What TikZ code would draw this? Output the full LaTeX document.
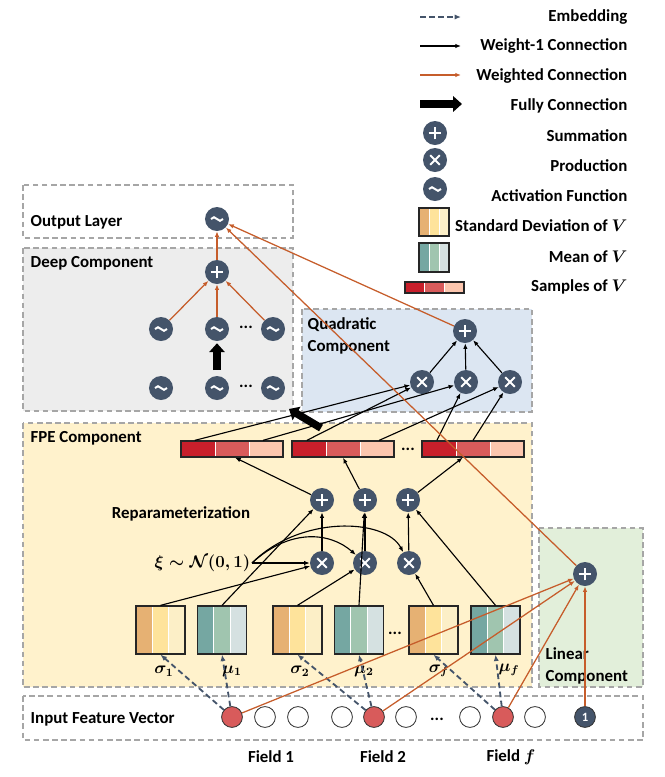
\documentclass[tikz,border=0pt]{standalone}
\usepackage{amsmath, amssymb, bm}
\usepackage[no-math]{fontspec}
\setmainfont{Carlito}
\usepackage{xcolor}
\usetikzlibrary{arrows.meta, positioning, calc}
\definecolor{opfill}{HTML}{44546A}
\definecolor{wtcol}{HTML}{C65D2B}
\definecolor{grpline}{HTML}{A6A6A6}
\definecolor{deepbg}{HTML}{EDEDED}
\definecolor{quadbg}{HTML}{DCE6F2}
\definecolor{fpebg}{HTML}{FFF2CC}
\definecolor{linbg}{HTML}{E2EFDA}
\definecolor{sdA}{HTML}{E6B173}
\definecolor{sdB}{HTML}{FEE39B}
\definecolor{sdC}{HTML}{FCEFC7}
\definecolor{muA}{HTML}{75A7A2}
\definecolor{muB}{HTML}{A0C5AF}
\definecolor{muC}{HTML}{D5E1E1}
\definecolor{smA}{HTML}{C81F2B}
\definecolor{smB}{HTML}{D85B5B}
\definecolor{smC}{HTML}{FCC6AE}
\tikzset{
    grpbox/.style={draw=grpline, line width=1pt, dash pattern=on 4pt off 2.5pt},
    grplbl/.style={anchor=west, inner sep=1pt, align=left},
    legtxt/.style={anchor=east, inner sep=1pt},
    varlbl/.style={font=\large\boldmath},
    op/.style={circle, fill=opfill, minimum size=0.6cm, inner sep=0pt},
    sumop/.style={op, path picture={
        \draw[white, line width=1.5pt] ([xshift=-0.16cm]path picture bounding box.center) -- ([xshift=0.16cm]path picture bounding box.center)
            ([yshift=-0.16cm]path picture bounding box.center) -- ([yshift=0.16cm]path picture bounding box.center);}},
    prodop/.style={op, path picture={
        \draw[white, line width=1.3pt] ([shift={(-0.12cm,-0.12cm)}]path picture bounding box.center) -- ([shift={(0.12cm,0.12cm)}]path picture bounding box.center)
            ([shift={(-0.12cm,0.12cm)}]path picture bounding box.center) -- ([shift={(0.12cm,-0.12cm)}]path picture bounding box.center);}},
    actop/.style={op, path picture={
        \draw[white, line width=1.4pt] ([xshift=-0.15cm]path picture bounding box.center)
            sin ++(0.075cm,0.045cm) cos ++(0.075cm,-0.045cm) sin ++(0.075cm,-0.045cm) cos ++(0.075cm,0.045cm);}},
    stripes/.style n args={3}{draw=black!85, line width=0.9pt, inner sep=0pt, path picture={
        \coordinate (sw) at (path picture bounding box.south west);
        \coordinate (se) at (path picture bounding box.south east);
        \coordinate (nw) at (path picture bounding box.north west);
        \coordinate (ne) at (path picture bounding box.north east);
        \fill[#1] (sw) rectangle ($(nw)!1/3!(ne)$);
        \fill[#2] ($(sw)!1/3!(se)$) rectangle ($(nw)!2/3!(ne)$);
        \fill[#3] ($(sw)!2/3!(se)$) rectangle (ne);
        \draw[white, line width=0.7pt] ($(sw)!1/3!(se)$) -- ($(nw)!1/3!(ne)$) ($(sw)!2/3!(se)$) -- ($(nw)!2/3!(ne)$);}},
    sdbox/.style={stripes={sdA}{sdB}{sdC}, minimum width=1.225cm, minimum height=1.2cm},
    mubox/.style={stripes={muA}{muB}{muC}, minimum width=1.225cm, minimum height=1.2cm},
    smbar/.style={stripes={smA}{smB}{smC}, minimum width=2.55cm, minimum height=0.4cm},
    incirc/.style={circle, draw=black!80, line width=0.6pt, fill=white, minimum size=0.52cm, inner sep=0pt},
    inhot/.style={incirc, fill=smB},
    w1arr/.style={-{Latex[length=1.4mm, width=1.1mm]}, line width=0.8pt, black},
    wtarr/.style={-{Latex[length=1.4mm, width=1.1mm]}, line width=0.9pt, wtcol},
    embarr/.style={-{Latex[length=1.6mm, width=1.3mm]}, line width=1.3pt, opfill, dash pattern=on 4pt off 2.5pt},
    fullarr/.style={-{Triangle[length=0.22cm, width=0.38cm]}, line width=0.19cm, black}
}
\begin{document}
\begin{tikzpicture}[x=0.025cm, y=-0.025cm, font=\bfseries\boldmath\fontsize{12}{15.6}\selectfont]
    \useasboundingbox (0,0) rectangle (665,777);
    % component frames
    \draw[grpbox] (23,185) rectangle (293,238);
    \draw[grpbox, fill=deepbg] (23,248) rectangle (293,411);
    \draw[grpbox, fill=quadbg] (302,309) rectangle (532,412);
    \draw[grpbox, fill=fpebg] (23,423) rectangle (532,687);
    \draw[grpbox, fill=linbg] (539,528) rectangle (643,687);
    \draw[grpbox] (23,696) rectangle (643,740);
    \node[grplbl] (outlbl) at (29,222) {Output Layer};
    \node[grplbl] (deeplbl) at (29,263) {Deep Component};
    \node[grplbl] (quadlbl) at (306,336) {Quadratic\\Component};
    \node[grplbl] (fpelbl) at (29,438) {FPE Component};
    \node[grplbl] (linlbl) at (544,666) {Linear\\Component};
    \node[grplbl] (inlbl) at (29,719) {Input Feature Vector};
    \node (replbl) at (181,514) {Reparameterization};

    % legend
    \coordinate (embA) at (420,17);  \coordinate (embB) at (461,17);
    \coordinate (oneA) at (420,46);  \coordinate (oneB) at (461,46);
    \coordinate (wtA) at (420,75);   \coordinate (wtB) at (461,75);
    \coordinate (fcA) at (420,104);  \coordinate (fcB) at (462,104);
    \draw[embarr] (embA) -- (embB);
    \draw[w1arr] (oneA) -- (oneB);
    \draw[wtarr] (wtA) -- (wtB);
    \draw[fullarr] (fcA) -- (fcB);
    \node[legtxt] (legemb) at (629,17) {Embedding};
    \node[legtxt] (legone) at (629,46) {Weight-1 Connection};
    \node[legtxt] (legwt) at (629,76) {Weighted Connection};
    \node[legtxt] (legfc) at (629,106) {Fully Connection};
    \node[sumop] (legsum) at (435,133) {};
    \node[legtxt] (legsumtxt) at (629,136) {Summation};
    \node[prodop] (legprod) at (435,160) {};
    \node[legtxt] (legprodtxt) at (629,166) {Production};
    \node[actop] (legact) at (435,189) {};
    \node[legtxt] (legacttxt) at (629,196) {Activation Function};
    \node[sdbox, minimum width=0.75cm, minimum height=0.7cm] (legsd) at (434,222) {};
    \node[legtxt] (legsdtxt) at (629,226) {Standard Deviation of $\bm{V}$};
    \node[mubox, minimum width=0.75cm, minimum height=0.72cm] (legmu) at (434,257.5) {};
    \node[legtxt] (legmutxt) at (629,257) {Mean of $\bm{V}$};
    \node[smbar, minimum width=1.47cm, minimum height=0.27cm] (legsm) at (434.5,287.5) {};
    \node[legtxt] (legsmtxt) at (629,287) {Samples of $\bm{V}$};

    % deep component and output
    \node[actop] (out) at (217,219) {};
    \node[sumop] (dsum) at (217,272) {};
    \node[actop] (h1) at (161,329) {};
    \node[actop] (h2) at (217,329) {};
    \node[actop] (h3) at (273,329) {};
    \node (hdots) at (246,327) {...};
    \node[actop] (g1) at (161,388) {};
    \node[actop] (g2) at (217,388) {};
    \node[actop] (g3) at (273,388) {};
    \node (gdots) at (246,386) {...};

    % quadratic component
    \node[sumop] (qsum) at (465,331) {};
    \node[prodop] (q1) at (422,382) {};
    \node[prodop] (q2) at (466,382) {};
    \node[prodop] (q3) at (510,382) {};

    % FPE component
    \node[smbar] (e1) at (232,449) {};
    \node[smbar] (e2) at (343,449) {};
    \node[smbar] (e3) at (473,449) {};
    \node (edots) at (408,449) {...};
    \node[sumop] (rs1) at (322,500) {};
    \node[sumop] (rs2) at (365,500) {};
    \node[sumop] (rs3) at (408,500) {};
    \node[prodop] (rp1) at (322,563) {};
    \node[prodop] (rp2) at (365,563) {};
    \node[prodop] (rp3) at (409,563) {};
    \node[anchor=east, inner sep=1pt] (xi) at (252,563) {$\bm{\xi\sim\mathcal{N}(0,1)}$};
    \node[sdbox] (sig1) at (160.5,630) {};
    \node[mubox] (mu1) at (222,630) {};
    \node[sdbox] (sig2) at (297.5,630) {};
    \node[mubox] (mu2) at (359,630) {};
    \node (bdots) at (395,633) {...};
    \node[sdbox] (sigf) at (433.5,630) {};
    \node[mubox] (muf) at (495.5,630) {};
    \node[varlbl] (lsig1) at (164,671) {$\bm{\sigma_1}$};
    \node[varlbl] (lmu1) at (232,671) {$\bm{\mu_1}$};
    \node[varlbl] (lsig2) at (300,671) {$\bm{\sigma_2}$};
    \node[varlbl] (lmu2) at (364,671) {$\bm{\mu_2}$};
    \node[varlbl] (lsigf) at (439,671) {$\bm{\sigma_f}$};
    \node[varlbl] (lmuf) at (509,670) {$\bm{\mu_f}$};

    % linear component and input
    \node[sumop] (lsum) at (585,574) {};
    \node[inhot] (x1) at (232,717) {};
    \node[incirc] (x2) at (265,717) {};
    \node[incirc] (x3) at (298,717) {};
    \node[incirc] (x4) at (342,717) {};
    \node[inhot] (x5) at (374,717) {};
    \node[incirc] (x6) at (406,717) {};
    \node (xdots) at (437,719) {...};
    \node[incirc] (x7) at (470,717) {};
    \node[inhot] (x8) at (503,717) {};
    \node[incirc] (x9) at (535,717) {};
    \node[incirc, fill=opfill, text=white, font=\bfseries\small] (xone) at (585,717) {1};
    \node (fld1) at (271,757) {Field 1};
    \node (fld2) at (383,757) {Field 2};
    \node (fldf) at (511,757) {Field $\bm{f}$};

    % embeddings
    \draw[embarr] (x1) -- (sig1.south);
    \draw[embarr] (x1) -- (mu1.south);
    \draw[embarr] (x5) -- (sig2.south);
    \draw[embarr] (x5) -- (mu2.south);
    \draw[embarr] (x8) -- (sigf.south);
    \draw[embarr] (x8) -- (muf.south);

    % reparameterization
    \draw[w1arr] (sig1.north) -- (rp1);
    \draw[w1arr] (mu1.north) -- (rs1);
    \draw[w1arr] (sig2.north) -- (rp2);
    \draw[w1arr] (mu2.north) -- (rs2);
    \draw[w1arr] (sigf.north) -- (rp3);
    \draw[w1arr] (muf.north) -- (rs3);
    \draw[w1arr] (xi.east) -- (rp1);
    \draw[w1arr] (xi.east) .. controls (290,528) and (330,532) .. (rp2);
    \draw[w1arr] (xi.east) .. controls (300,515) and (385,518) .. (rp3);
    \draw[w1arr] (rp1) -- (rs1);
    \draw[w1arr] (rp2) -- (rs2);
    \draw[w1arr] (rp3) -- (rs3);
    \draw[w1arr] (rs1) -- ($(e1.south west)!0.53!(e1.south east)$);
    \draw[w1arr] (rs2) -- (e2.south);
    \draw[w1arr] (rs3) -- ($(e3.south west)!0.4!(e3.south east)$);

    % pairwise products
    \draw[w1arr] ($(e1.north west)!0.14!(e1.north east)$) -- (q1);
    \draw[w1arr] ($(e1.north west)!0.8!(e1.north east)$) -- (q2);
    \draw[w1arr] ($(e2.north west)!0.15!(e2.north east)$) -- (q1);
    \draw[w1arr] ($(e2.north west)!0.85!(e2.north east)$) -- (q3);
    \draw[w1arr] ($(e3.north west)!0.15!(e3.north east)$) -- (q2);
    \draw[w1arr] ($(e3.north west)!0.5!(e3.north east)$) -- (q3);
    \draw[w1arr] (q1) -- (qsum);
    \draw[w1arr] (q2) -- (qsum);
    \draw[w1arr] (q3) -- (qsum);

    % deep part
    \coordinate (fpeout) at (321,428);
    \coordinate (deepin) at (289,409);
    \draw[fullarr] (fpeout) -- (deepin);
    \draw[fullarr, shorten <=0.14cm, shorten >=0.05cm] (g2) -- (h2);
    \draw[wtarr] (h1) -- (dsum);
    \draw[wtarr] (h2) -- (dsum);
    \draw[wtarr] (h3) -- (dsum);
    \draw[wtarr] (dsum) -- (out);

    % linear part and output
    \draw[wtarr] (x1) -- (lsum);
    \draw[wtarr] (x5) -- (lsum);
    \draw[wtarr] (x8) -- (lsum);
    \draw[wtarr] (xone) -- (lsum);
    \draw[wtarr] (qsum) -- (out);
    \draw[wtarr] (lsum) -- (out);
\end{tikzpicture}
\end{document}
